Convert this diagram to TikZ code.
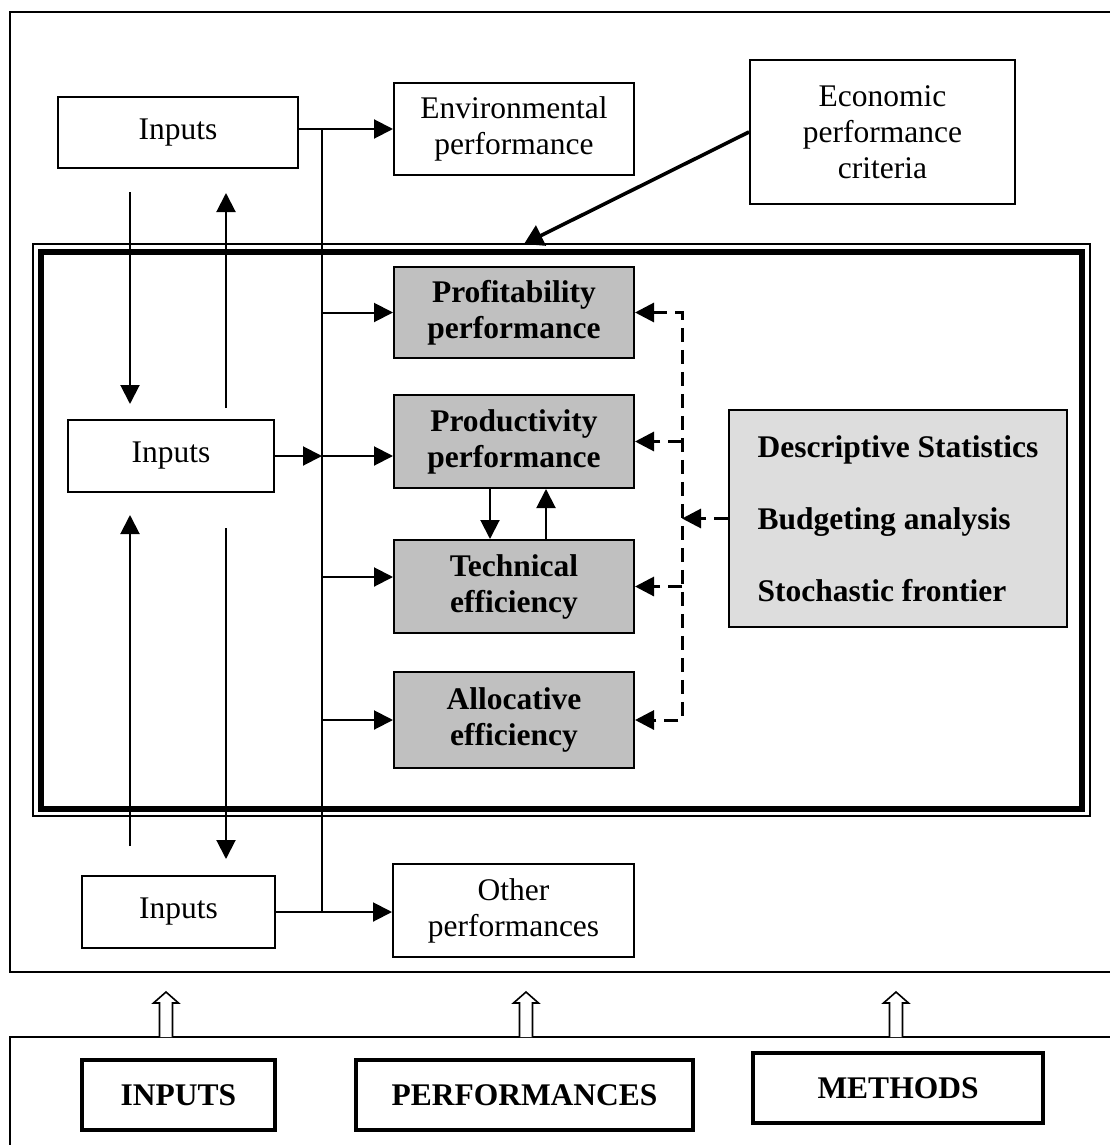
\documentclass[tikz,border=0pt]{standalone}
\usepackage{fontspec}
\setmainfont{Liberation Serif}
\usetikzlibrary{arrows.meta}
\definecolor{boxgray}{HTML}{C0C0C0}
\definecolor{methgray}{HTML}{DDDDDD}
\newcommand{\diagfont}{\fontsize{15.75pt}{18pt}\selectfont}
\tikzset{
  wbox/.style={draw, line width=1pt, fill=white, align=center, inner sep=0pt, font=\diagfont},
  gbox/.style={wbox, fill=boxgray, font=\diagfont\bfseries},
  lblbox/.style={draw, line width=2pt, fill=white, align=center, inner sep=0pt, font=\diagfont\bfseries},
  conn/.style={line width=1pt, -{Triangle[length=9.5pt,width=9.5pt]}},
  plainline/.style={line width=1pt},
  dconn/.style={line width=1.5pt, dash pattern=on 7pt off 4pt},
  dtip/.style={-{Triangle[length=9.5pt,width=9.5pt]}},
}
\begin{document}
\begin{tikzpicture}[x=0.5pt,y=-0.5pt]
\useasboundingbox (0,0) rectangle (1109,1145);
% big frames
\draw[line width=1pt] (10,12) rectangle (1115,972);
\draw[line width=1pt] (10,1037) rectangle (1115,1160);
\draw[line width=0.8pt] (33,244) rectangle (1090,816);
\draw[line width=3pt] (41,251.5) rectangle (1082,809);

% nodes
\node[wbox, minimum width=120pt, minimum height=35.5pt] (in1) at (178,132.5) {Inputs};
\node[wbox, minimum width=120pt, minimum height=46pt] (env) at (514,129) {Environmental\\performance};
\node[wbox, minimum width=132.5pt, minimum height=72pt] (eco) at (882.5,132) {Economic\\performance\\criteria};
\node[gbox, minimum width=120pt, minimum height=45.5pt] (prof) at (514,312.5) {Profitability\\performance};
\node[gbox, minimum width=120pt, minimum height=46.5pt] (prod) at (514,441.5) {Productivity\\performance};
\node[gbox, minimum width=120pt, minimum height=46.5pt] (tech) at (514,586.5) {Technical\\efficiency};
\node[gbox, minimum width=120pt, minimum height=48pt] (alloc) at (514,720) {Allocative\\efficiency};
\node[wbox, minimum width=103pt, minimum height=36pt] (in2) at (171,456) {Inputs};
\node[wbox, fill=methgray, font=\diagfont\bfseries, align=left, minimum width=169pt, minimum height=108.5pt] (meth) at (898,518.5) {Descriptive Statistics\\[18pt]Budgeting analysis\\[18pt]Stochastic frontier};
\node[wbox, minimum width=96.5pt, minimum height=36pt] (in3) at (178.5,912) {Inputs};
\node[wbox, minimum width=120.5pt, minimum height=46.5pt] (other) at (513.5,910.5) {Other\\performances};
\node[lblbox, minimum width=96.5pt, minimum height=35pt] (lin) at (178.5,1095) {INPUTS};
\node[lblbox, minimum width=168.5pt, minimum height=35pt] (lperf) at (524.5,1095) {PERFORMANCES};
\node[lblbox, minimum width=145pt, minimum height=35pt] (lmeth) at (898,1088) {METHODS};

% bus
\coordinate (bt) at (322,129);
\coordinate (bb) at (322,912);
\coordinate (b2) at (322,456);
\coordinate (b3) at (322,577);
\draw[plainline] (bt) -- (bb);
\draw[conn] (in1.east |- env.west) -- (env.west);
\draw[conn] (prof.west -| bt) -- (prof.west);
\draw[conn] (in2.east) -- (b2);
\draw[conn] (b2) -- (b2 -| prod.west);
\draw[conn] (b3) -- (b3 -| tech.west);
\draw[conn] (alloc.west -| bt) -- (alloc.west);
\draw[conn] (in3.east) -- (in3.east -| other.west);

% left verticals
\coordinate (l1s) at (130,192); \coordinate (l1e) at (130,404);
\coordinate (l2s) at (226,408); \coordinate (l2e) at (226,193);
\coordinate (l3s) at (130,846); \coordinate (l3e) at (130,515);
\coordinate (l4s) at (226,528); \coordinate (l4e) at (226,859);
\draw[conn] (l1s) -- (l1e);
\draw[conn] (l2s) -- (l2e);
\draw[conn] (l3s) -- (l3e);
\draw[conn] (l4s) -- (l4e);

% productivity <-> technical
\draw[conn] (prod.south -| 490,0) -- (tech.north -| 490,0);
\draw[conn] (tech.north -| 546,0) -- (prod.south -| 546,0);

% economic criteria arrow
\coordinate (ecotip) at (524,244);
\draw[line width=1.8pt, -{Triangle[length=9.5pt,width=11pt]}] (eco.west) -- (ecotip);

% dashed method links
\coordinate (dtop) at (682,312.5);
\coordinate (dbot) at (682,720);
\draw[dconn, {Triangle[length=9.5pt,width=9.5pt]}-{Triangle[length=9.5pt,width=9.5pt]}] (prof.east) -- (dtop) -- (dbot) -- (alloc.east);
\draw[dconn, dtip] (prod.east -| dtop) -- (prod.east);
\draw[dconn, dtip] (tech.east -| dtop) -- (tech.east);
\draw[dconn, dtip] (meth.west) -- (meth.west -| dtop);

% hollow arrows
\foreach \x in {166,526,896} {
  \draw[line width=0.8pt, fill=white] ({\x-6.5},1037) -- ({\x-6.5},1003) -- ({\x-12.5},1003) -- (\x,992) -- ({\x+12.5},1003) -- ({\x+6.5},1003) -- ({\x+6.5},1037);
}
\end{tikzpicture}
\end{document}
